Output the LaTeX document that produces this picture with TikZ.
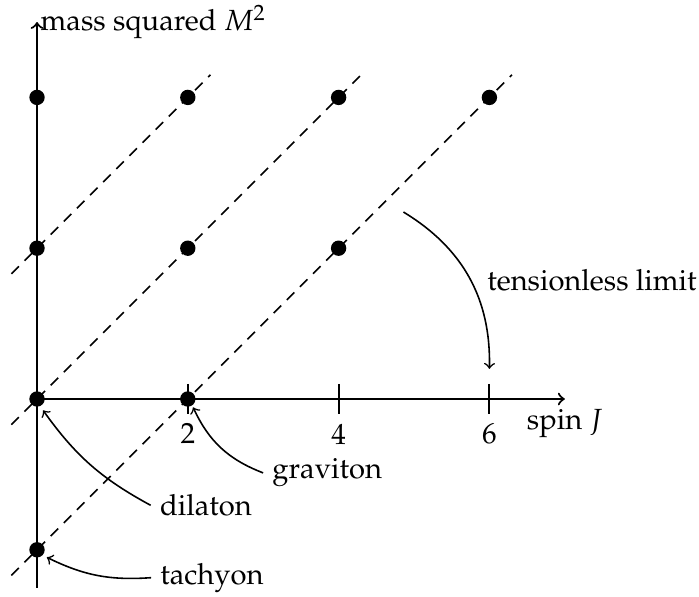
\documentclass[tikz,border=0pt]{standalone}
\usepackage[T1]{fontenc}
\usepackage{amsmath}
\usepackage{mathpazo}
\usepackage{tikz}
\usetikzlibrary{calc}

\begin{document}
\begin{tikzpicture}[font=\fontsize{11}{13}\selectfont, >=to]

        % 1. Fix the frame and the axis ends
        \useasboundingbox (-0.491,-2.626) rectangle (8.780,5.292);
        \pgfmathsetmacro{\tick}{0.2} % half length of a tick

        \coordinate (O) at (0,0);
        \coordinate (Ybot) at (0,-2.51);
        \coordinate (Ytop) at (0,5.0);
        \coordinate (Xend) at (7.0,0);

        % 2. Draw the axes
        \tikzset{axis/.style={thick, ->}}
        \draw[thick] (O) -- (Ybot);
        \draw[axis] (O) -- (Ytop) node[right, inner sep=1pt] (ylab) {mass squared $M^2$};
        \draw[axis] (O) -- (Xend) node[below] (xlab) {spin $J$};

        % 3. Ticks and their labels
        \foreach \j in {2,4,6} {
            \coordinate (T\j a) at (\j,\tick);
            \coordinate (T\j b) at (\j,-\tick);
            \draw[thick] (T\j a) -- (T\j b) node[below] (lab\j) {$\j$};
        }

        % 4. Dashed trajectories (slope one)
        \tikzset{traj/.style={semithick, dash pattern=on 4pt off 3pt}}
        \coordinate (LA) at (-0.34,1.66);  \coordinate (RA) at (2.3,4.3);
        \coordinate (LB) at (-0.34,-0.34); \coordinate (RB) at (4.3,4.3);
        \coordinate (LC) at (-0.34,-2.34); \coordinate (RC) at (6.3,4.3);
        \draw[traj] (LA) -- (RA);
        \draw[traj] (LB) -- (RB);
        \draw[traj] (LC) -- (RC);

        % 5. States on the trajectories
        \tikzset{state/.style={fill=black, circle, minimum size=5.8pt, inner sep=0pt}}
        \node[state] (s04) at (0,4) {};
        \node[state] (s24) at (2,4) {};
        \node[state] (s44) at (4,4) {};
        \node[state] (s64) at (6,4) {};
        \node[state] (s02) at (0,2) {};
        \node[state] (s22) at (2,2) {};
        \node[state] (s42) at (4,2) {};
        \node[state] (s00) at (0,0) {};
        \node[state] (s20) at (2,0) {};
        \node[state] (s0m) at (0,-2) {};

        % 6. Labels and the curved arrows
        \node (tension) at (7.36,1.58) {tensionless limit};
        \node (graviton) at (3.85,-0.98) {graviton};
        \node (dilaton) at (2.24,-1.41) {dilaton};
        \node (tachyon) at (2.32,-2.37) {tachyon};

        \coordinate (Tstart) at (4.86,2.48);
        \coordinate (Tend) at (6,0.4);
        \coordinate (Gend) at (2.07,-0.11);
        \coordinate (Dend) at (0.08,-0.15);
        \coordinate (Cend) at (0.13,-2.1);

        \draw[semithick, ->] (Tstart) to[bend left=30] (Tend);
        \draw[semithick, ->] (graviton.west) to[bend left=22] (Gend);
        \draw[semithick, ->] (dilaton.west) to[bend left=13] (Dend);
        \draw[semithick, ->] (tachyon.west) to[bend left=15] (Cend);

\end{tikzpicture}
\end{document}
